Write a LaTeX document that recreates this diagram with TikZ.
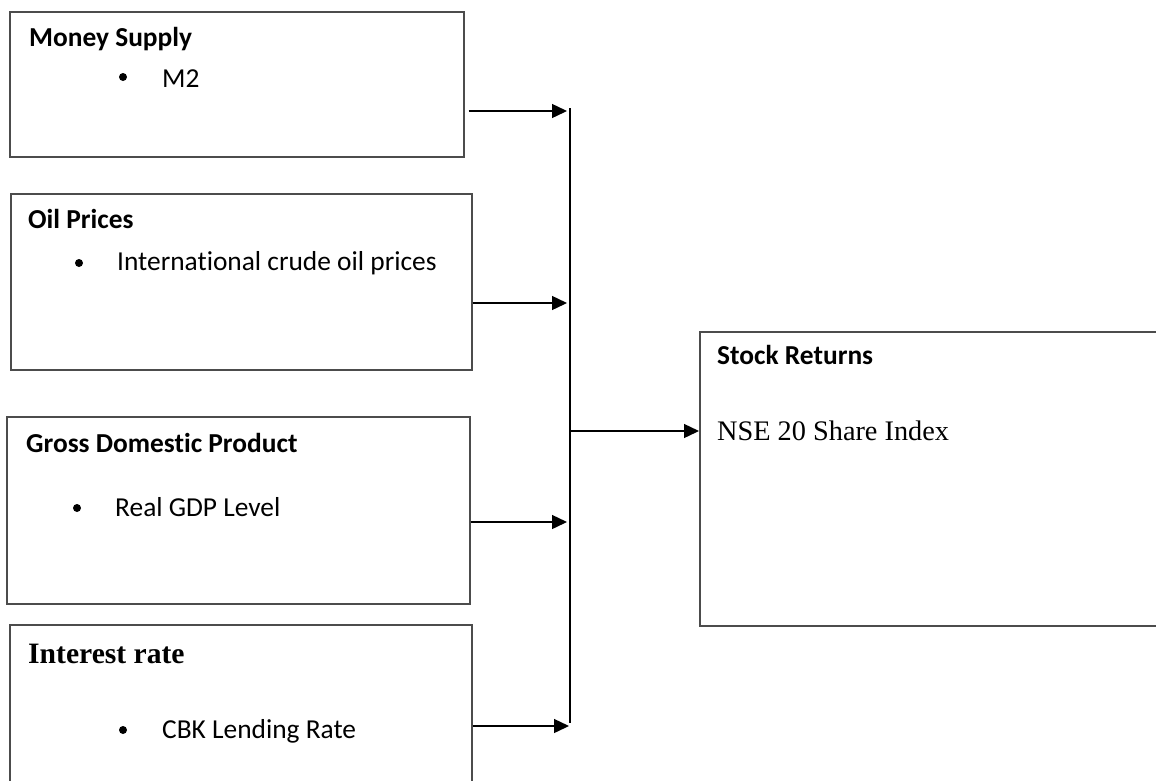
\documentclass[tikz,border=0pt]{standalone}
\usepackage{fontspec}
\setmainfont{Carlito}[Ligatures=NoCommon]
\newfontfamily\timesfont{Liberation Serif}
\usetikzlibrary{arrows.meta}
\tikzset{
  box/.style={draw=black!70, line width=1.6pt, inner sep=0pt, anchor=north west},
  head/.style={anchor=base west, inner sep=0pt, font=\fontsize{27.4}{32}\selectfont\bfseries},
  item/.style={anchor=base west, inner sep=0pt, font=\fontsize{27.4}{32}\selectfont},
  arr/.style={line width=1.4pt, -{Triangle[length=15pt,width=14pt]}},
}
\begin{document}
\begin{tikzpicture}[x=1pt,y=-1pt]
\useasboundingbox (0,0) rectangle (1156,780);
% boxes
\node[box, minimum width=454pt, minimum height=145pt] (money) at (9,11) {};
\node[box, minimum width=461pt, minimum height=176pt] (oil) at (10,193) {};
\node[box, minimum width=463pt, minimum height=187pt] (gdp) at (6,416) {};
\node[box, minimum width=462pt, minimum height=170pt] (rate) at (9,624) {};
\node[box, minimum width=470pt, minimum height=294pt] (stock) at (699,331) {};

% texts
\node[head] (moneyhd) at (29,46) {Money Supply};
\node[item] (m2) at (162,87) {M2};
\node[head] (oilhd) at (28,228) {Oil Prices};
\node[item] (crude) at (117,270) {International crude oil prices};
\node[head] (gdphd) at (26,452) {Gross Domestic Product};
\node[item] (realgdp) at (115,516) {Real GDP Level};
\node[head, font=\fontsize{29.6}{34}\selectfont\timesfont\bfseries] (ratehd) at (28,663) {Interest rate};
\node[item] (cbk) at (162,738) {CBK Lending Rate};
\node[head] (stockhd) at (717,364) {Stock Returns};
\node[item, font=\fontsize{28.3}{34}\selectfont\timesfont] (nse) at (717,440) {NSE 20 Share Index};

% bullets
\foreach \x/\y in {123/77, 79/263, 77/508, 123/730}{
  \fill (\x,\y) circle[radius=4pt];
}

% connectors
\coordinate (bustop) at (570,108);
\coordinate (busbot) at (570,723);
\coordinate (busout) at (570,431);
\coordinate (in1) at (567,111);
\coordinate (in2) at (567,303);
\coordinate (in3) at (567,522);
\coordinate (in4) at (569,726);
\draw[line width=1.4pt] (bustop) -- (busbot);
\draw[arr] ([xshift=4pt]money.east |- in1) -- (in1);
\draw[arr] (oil.east |- in2) -- (in2);
\draw[arr] (gdp.east |- in3) -- (in3);
\draw[arr] (rate.east |- in4) -- (in4);
\draw[arr] (busout) -- (busout -| stock.west);
\end{tikzpicture}
\end{document}
